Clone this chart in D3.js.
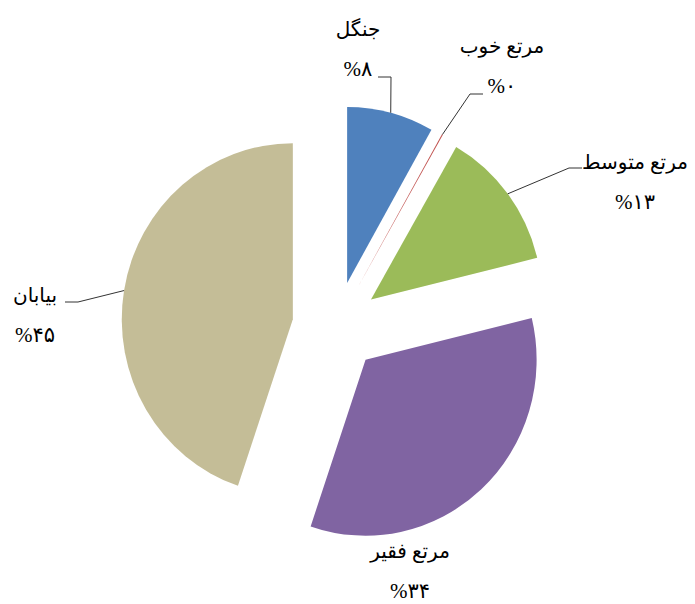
<!DOCTYPE html>
<html>

<head>
  <meta charset="utf-8" />
  <title>Land use pie</title>
  <style>
    body {
      margin: 0;
      background: #fff;
    }

    .name {
      font-family: "Times New Roman", "DejaVu Sans", serif;
      font-size: 20px;
      font-weight: normal;
      fill: #000;
    }

    .pct {
      font-family: "Times New Roman", "DejaVu Sans", serif;
      font-size: 21px;
      fill: #000;
    }

    .leader {
      fill: none;
      stroke: #333;
      stroke-width: 1px;
    }
  </style>
  <script src="https://cdnjs.cloudflare.com/ajax/libs/d3/7.8.5/d3.min.js"></script>
</head>

<body>
  <div id="chartArea"></div>
  <script>
    // data (percent of area)
    var categories = ['جنگل', 'مرتع خوب', 'مرتع متوسط', 'مرتع فقیر', 'بیابان'];
    var values = [8.2, 0.1, 12.9, 34.0, 44.8];
    var colors = ['#4F81BD', '#C0504D', '#9BBB59', '#8064A2', '#C4BD97'];

    // label layout: centre x and name baseline, plus where the leader line meets the label
    var labelLayout = [
      { x: 358, y: 36, lx: 378, ly: 77 },
      { x: 502, y: 53, lx: 483, ly: 94 },
      { x: 635, y: 169, lx: 582, ly: 168 },
      { x: 410, y: 558, lx: null, ly: null },
      { x: 35, y: 302, lx: 65, ly: 302 }
    ];

    var w = 695, h = 604;
    var cx = 336, cy = 326.5;
    var R = 176, explode = 45, sx = 0.972;

    var faDigits = '۰۱۲۳۴۵۶۷۸۹';
    function toFa(n) {
      return String(n).replace(/[0-9]/g, d => faDigits[+d]);
    }

    var dataset = categories.map((c, i) => ({ name: c, value: values[i], color: colors[i] }));

    var pie = d3.pie().sort(null).value(d => d.value);
    var arc = d3.arc().innerRadius(0).outerRadius(R);
    var arcs = pie(dataset);

    var svg = d3.select('#chartArea').append('svg')
      .attr('width', w)
      .attr('height', h);

    var pieG = svg.append('g')
      .attr('transform', 'translate(' + cx + ',' + cy + ') scale(' + sx + ',1)');

    function mid(d) { return (d.startAngle + d.endAngle) / 2; }

    pieG.selectAll('path')
      .data(arcs)
      .enter()
      .append('path')
      .attr('d', arc)
      .attr('fill', d => d.data.color)
      .attr('transform', d => 'translate(' + (explode * Math.sin(mid(d))) + ',' + (-explode * Math.cos(mid(d))) + ')');

    // point on the outer arc (screen coords) at slice mid angle
    function arcPoint(d) {
      var a = mid(d);
      var r = explode + R;
      return [cx + sx * r * Math.sin(a), cy - r * Math.cos(a)];
    }

    var labels = svg.append('g');

    arcs.forEach(function (d, i) {
      var L = labelLayout[i];
      if (L.lx !== null) {
        var p = arcPoint(d);
        var elbowX = L.lx + (p[0] > L.lx ? 13 : -13);
        labels.append('path')
          .attr('class', 'leader')
          .attr('d', d3.line()([[L.lx, L.ly], [elbowX, L.ly], p]));
      }
      labels.append('text')
        .attr('class', 'name')
        .attr('x', L.x)
        .attr('y', L.y)
        .attr('text-anchor', 'middle')
        .text(d.data.name);
      labels.append('text')
        .attr('class', 'pct')
        .attr('x', L.x)
        .attr('y', L.y + 40)
        .attr('text-anchor', 'middle')
        .attr('direction', 'ltr')
        .text('%' + toFa(Math.round(d.data.value)));
    });
  </script>
</body>

</html>
